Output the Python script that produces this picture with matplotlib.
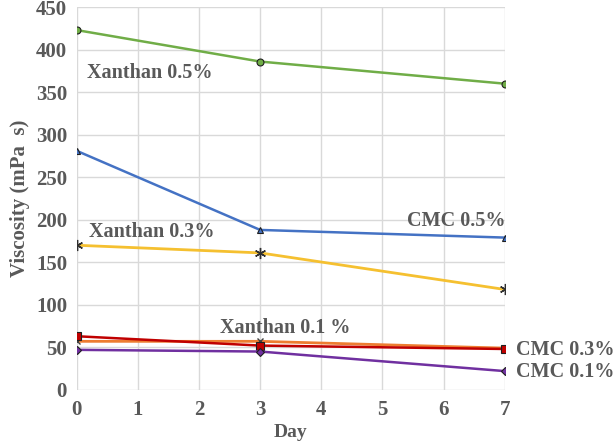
import numpy as np
import matplotlib
matplotlib.use('agg')
from matplotlib import pyplot as plt

days = [0, 3, 7]

xanthan_05 = [423, 386, 360]
cmc_05 = [281, 188, 179]
xanthan_03 = [170, 161, 118]
cmc_03 = [63, 52, 48]
xanthan_01 = [57, 57, 49]
cmc_01 = [47, 45, 22]

grey = '#595959'
plt.rcParams['font.family'] = ['Liberation Serif', 'DejaVu Serif']
plt.rcParams['font.weight'] = 'bold'

fig = plt.figure(figsize=(6.14, 4.46), dpi=100)
ax = fig.add_axes([0.125, 0.126, 0.697, 0.858])

series = [
	(xanthan_05, '#70ad47', 'o', 5),
	(cmc_05, '#4472c4', '^', 5),
	(xanthan_03, '#f5c030', (6, 2, 0), 8),
	(xanthan_01, '#ed7d31', 'x', 5),
	(cmc_03, '#c00000', 's', 6),
	(cmc_01, '#7030a0', 'D', 4),
]
for vals, col, mk, ms in series:
	if mk == 'x':
		ax.plot(days, vals, color=col, lw=2, marker=mk, ms=ms, mec='#404040', mew=1, zorder=3)
	elif isinstance(mk, tuple):
		ax.plot(days, vals, color=col, lw=2, marker=mk, ms=ms, mec='#303030', mew=1, zorder=3)
	else:
		ax.plot(days, vals, color=col, lw=1.8, marker=mk, ms=ms, mfc=col, mec='#1f1f1f', mew=0.8, zorder=3)

ax.set_xlim(0, 7)
ax.set_ylim(0, 450)
ax.set_xticks(range(8))
ax.set_yticks(range(0, 451, 50))
ax.grid(True, color='#d9d9d9', lw=1)
ax.set_axisbelow(True)
for s in ax.spines.values():
	s.set_visible(False)
ax.tick_params(length=0, labelsize=15, labelcolor=grey, pad=7)
for lab in ax.get_xticklabels() + ax.get_yticklabels():
	lab.set_fontweight('bold')

ax.set_xlabel('Day', fontsize=14, color=grey, fontweight='bold', labelpad=3)
ax.set_ylabel('Viscosity (mPa  s)', fontsize=15, color=grey, fontweight='bold', labelpad=4)

tk = dict(fontsize=14.5, color=grey, fontweight='bold', va='center', clip_on=False)
ax.text(0.16, 372, 'Xanthan 0.5%', **tk)
ax.text(0.2, 186, 'Xanthan 0.3%', **tk)
ax.text(5.4, 198, 'CMC 0.5%', **tk)
ax.text(2.35, 73, 'Xanthan 0.1 %', **tk)
ax.text(7.18, 47, 'CMC 0.3%', **tk)
ax.text(7.18, 21, 'CMC 0.1%', **tk)

fig.savefig('out.png', dpi=100)
